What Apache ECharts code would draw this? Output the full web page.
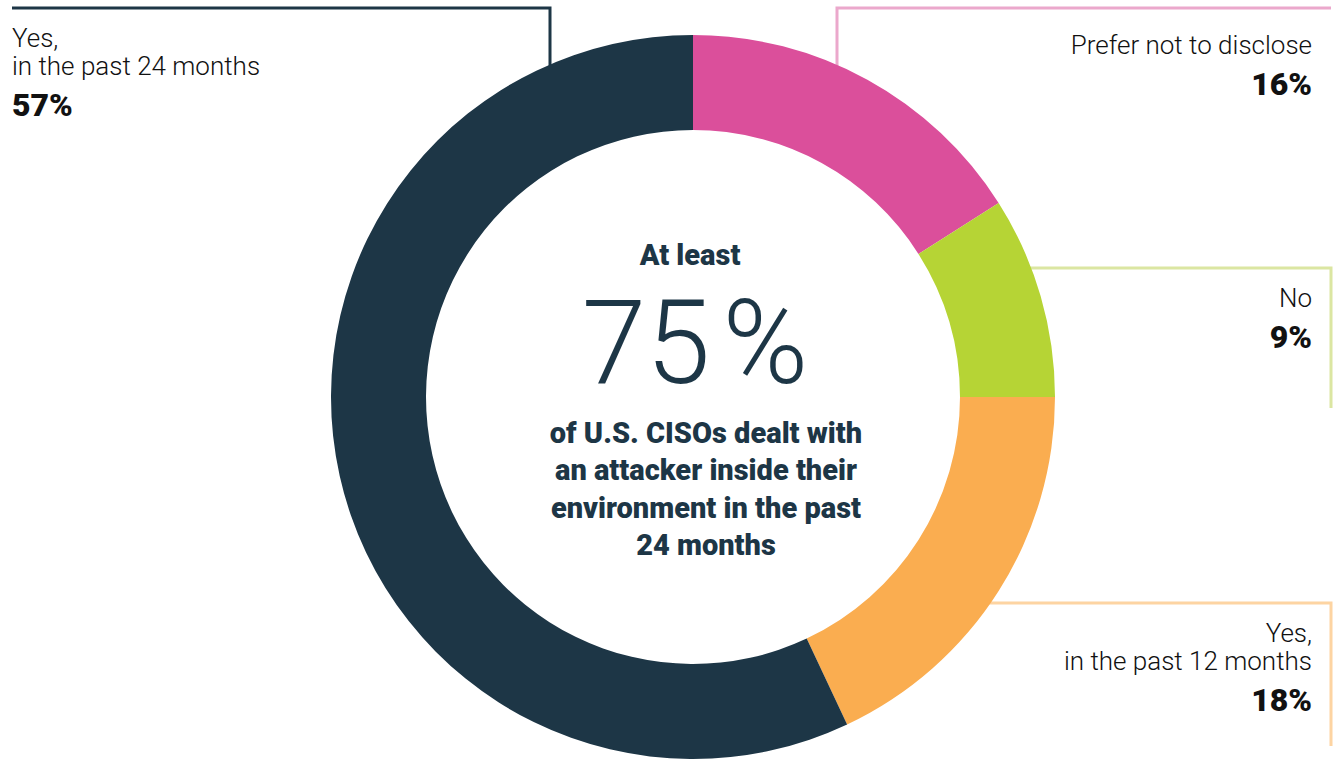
<!DOCTYPE html>
<html>
<head>
<meta charset="utf-8">
<script src="https://cdn.jsdelivr.net/npm/echarts@6/dist/echarts.min.js"></script>
<style>
  html, body { margin: 0; padding: 0; background: #ffffff; }
  #chart { width: 1341px; height: 760px; }
</style>
</head>
<body>
<div id="chart"></div>
<script>
// Survey answers, clockwise from 12 o'clock
const categories = ['Prefer not to disclose', 'No', 'Yes,\nin the past 12 months', 'Yes,\nin the past 24 months'];
const shares = [16, 9, 18, 57];
const sliceColors = ['#db4f9b', '#b6d435', '#faad50', '#1d3646'];
const leaderColors = ['#eba8cc', '#dbe6a2', '#fdd4a2', '#1d3646'];

// Centre caption
const headline = 'At least';
const captionLines = ['of U.S. CISOs dealt with', 'an attacker inside their', 'environment in the past', '24 months'];
const yesIndexes = [2, 3];

const FONT = 'Roboto, "Noto Sans", sans-serif';
const INK = '#111111';
const NAVY = '#1d3646';

const cx = 693, cy = 397;

// Callout placement per answer: text anchor, alignment, leader path
const callouts = [
  { x: 1312, y: 45, align: 'right', path: [[837, 120], [837, 8], [1331, 8]] },
  { x: 1312, y: 298, align: 'right', path: [[1000, 268], [1331, 268], [1331, 408]] },
  { x: 1312, y: 633, align: 'right', path: [[980, 603], [1331, 603], [1331, 746]] },
  { x: 12, y: 38, align: 'left', path: [[12, 8], [550, 8], [550, 120]] }
];

const graphics = [];
categories.forEach((name, i) => {
  const c = callouts[i];
  graphics.push({
    type: 'polyline', z: 0, silent: true,
    shape: { points: c.path },
    style: { stroke: leaderColors[i], lineWidth: 3, fill: null }
  });
  const lines = name.split('\n');
  lines.forEach((ln, k) => {
    graphics.push({
      type: 'text', z: 10,
      style: {
        text: ln, x: c.x, y: c.y + k * 28,
        align: c.align, verticalAlign: 'middle',
        fontFamily: FONT, fontSize: 26, fontWeight: 300, fill: INK
      }
    });
  });
  graphics.push({
    type: 'text', z: 10,
    style: {
      text: shares[i] + '%', x: c.x, y: c.y + (lines.length - 1) * 28 + 39,
      align: c.align, verticalAlign: 'middle',
      fontFamily: FONT, fontSize: 32, fontWeight: 900, fill: INK
    }
  });
});

// Centre text
const yesTotal = yesIndexes.reduce((s, i) => s + shares[i], 0);
graphics.push({
  type: 'text', z: 10,
  style: {
    text: headline, x: cx - 3, y: 255, align: 'center', verticalAlign: 'middle',
    fontFamily: FONT, fontSize: 29, fontWeight: 900, fill: NAVY
  }
});
graphics.push({
  type: 'text', z: 10,
  style: {
    text: '{n|' + yesTotal + '}{p|%}', x: cx + 2, y: 343, align: 'center', verticalAlign: 'middle',
    rich: {
      n: { fontFamily: FONT, fontSize: 116, fontWeight: 300, fill: NAVY },
      p: { fontFamily: FONT, fontSize: 116, fontWeight: 300, fill: NAVY, padding: [0, 0, 0, 12] }
    }
  }
});
captionLines.forEach((ln, k) => {
  graphics.push({
    type: 'text', z: 10,
    style: {
      text: ln, x: cx + 13, y: 433 + k * 37.3, align: 'center', verticalAlign: 'middle',
      fontFamily: FONT, fontSize: 29, fontWeight: 900, fill: NAVY
    }
  });
});

const chart = echarts.init(document.getElementById('chart'), null, { renderer: 'svg' });
chart.setOption({
  backgroundColor: '#ffffff',
  animation: false,
  graphic: { elements: graphics },
  series: [{
    type: 'pie',
    z: 2,
    center: [cx, cy],
    radius: [267, 362],
    startAngle: 90,
    clockwise: true,
    silent: true,
    label: { show: false },
    labelLine: { show: false },
    itemStyle: { borderWidth: 0 },
    data: categories.map((name, i) => ({
      name: name.replace('\n', ' '),
      value: shares[i],
      itemStyle: { color: sliceColors[i] }
    }))
  }]
});
</script>
</body>
</html>
